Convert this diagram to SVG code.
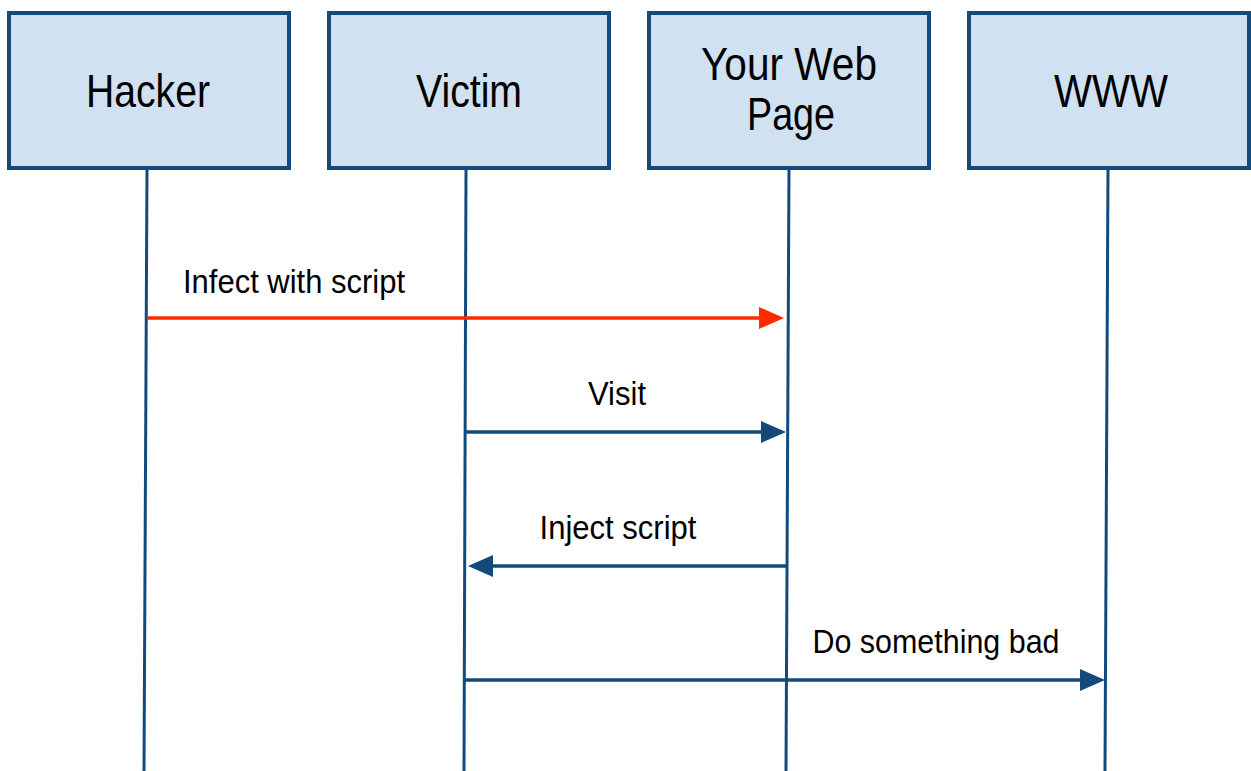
<svg xmlns="http://www.w3.org/2000/svg" width="1251" height="771" viewBox="0 0 1251 771">
<style>
.box{fill:#d0e1f2;stroke:#134a7c;stroke-width:4}
.life{stroke:#134a7c;stroke-width:3;fill:none}
.t{font-family:"Liberation Sans",Arial,sans-serif;fill:#000;text-anchor:middle}
.nt{font-size:46px}
.lt{font-size:33px}
.msg{stroke:#134a7c;stroke-width:3.5;fill:none}
.red{stroke:#ff2a00;stroke-width:3.5;fill:none}
</style>
<defs>
<marker id="ab" markerUnits="userSpaceOnUse" markerWidth="26" markerHeight="22" refX="0" refY="11" orient="auto" viewBox="0 0 26 22"><path d="M0,0 L25,11 L0,22 Z" fill="#134a7c"/></marker>
<marker id="ar" markerUnits="userSpaceOnUse" markerWidth="26" markerHeight="22" refX="0" refY="11" orient="auto" viewBox="0 0 26 22"><path d="M0,0 L25,11 L0,22 Z" fill="#ff2a00"/></marker>
</defs>
<rect width="1251" height="771" fill="#fff"/>
<g id="lifelines">
<line class="life" x1="147" y1="168" x2="144" y2="771"/>
<line class="life" x1="466" y1="168" x2="464" y2="771"/>
<line class="life" x1="789" y1="168" x2="786" y2="771"/>
<line class="life" x1="1108" y1="168" x2="1105" y2="771"/>
</g>
<g id="hacker"><rect class="box" x="9" y="13" width="280" height="155"/><text class="t nt" x="148" y="107" textLength="124" lengthAdjust="spacingAndGlyphs">Hacker</text></g>
<g id="victim"><rect class="box" x="329" y="13" width="280" height="155"/><text class="t nt" x="469" y="107" textLength="106" lengthAdjust="spacingAndGlyphs">Victim</text></g>
<g id="webpage"><rect class="box" x="649" y="13" width="280" height="155"/><text class="t nt" x="789" y="80" textLength="176" lengthAdjust="spacingAndGlyphs">Your Web</text><text class="t nt" x="791" y="130" textLength="88" lengthAdjust="spacingAndGlyphs">Page</text></g>
<g id="www"><rect class="box" x="969" y="13" width="280" height="155"/><text class="t nt" x="1111" y="107" textLength="114" lengthAdjust="spacingAndGlyphs">WWW</text></g>
<g id="connectors">
<line class="red" x1="147" y1="318" x2="759" y2="318" marker-end="url(#ar)"/>
<line class="msg" x1="466" y1="432" x2="761" y2="432" marker-end="url(#ab)"/>
<line class="msg" x1="786" y1="566" x2="493" y2="566" marker-end="url(#ab)"/>
<line class="msg" x1="465" y1="680" x2="1080" y2="680" marker-end="url(#ab)"/>
<text class="t lt" x="294" y="293" textLength="222" lengthAdjust="spacingAndGlyphs">Infect with script</text>
<text class="t lt" x="617" y="405" textLength="58" lengthAdjust="spacingAndGlyphs">Visit</text>
<text class="t lt" x="618" y="539" textLength="157" lengthAdjust="spacingAndGlyphs">Inject script</text>
<text class="t lt" x="936" y="653" textLength="247" lengthAdjust="spacingAndGlyphs">Do something bad</text>
</g>
</svg>
